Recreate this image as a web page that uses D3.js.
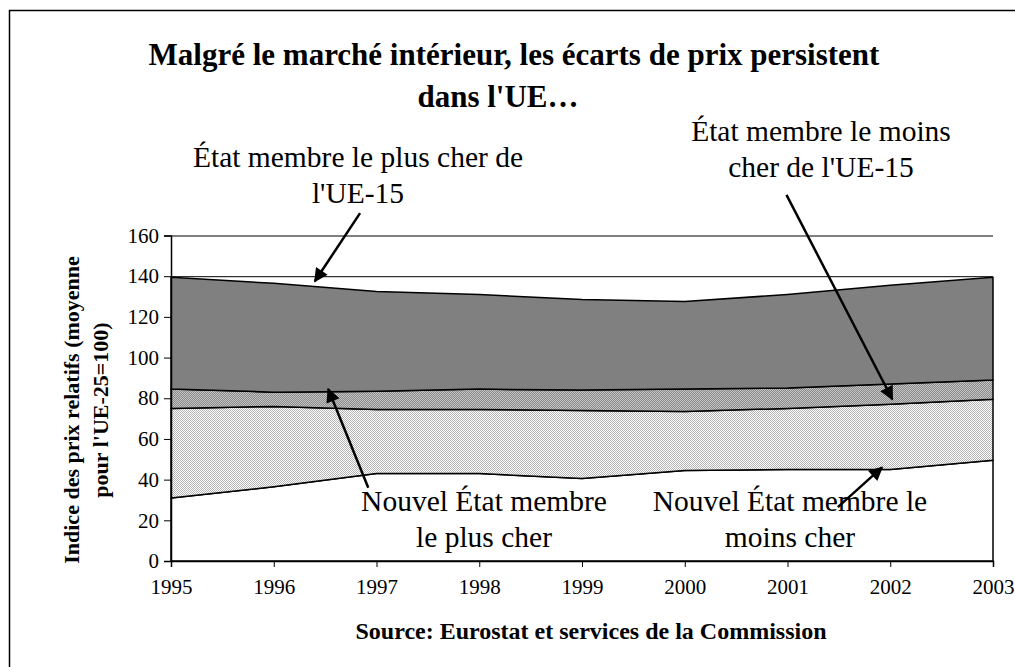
<!DOCTYPE html>
<html>
<head>
<meta charset="utf-8">
<script src="https://cdn.jsdelivr.net/npm/d3@7"></script>
<style>
  html, body { margin: 0; padding: 0; background: #fff; }
  svg { display: block; }
  svg text { font-family: "Liberation Serif", "Times New Roman", serif; }
</style>
</head>
<body>
<svg id="chart"></svg>
<script>
// Data (index of relative prices, EU-25 = 100)
const years = ["1995", "1996", "1997", "1998", "1999", "2000", "2001", "2002", "2003"];
const maxEU15 = [139.5, 136.5, 132.5, 131, 128.5, 127.5, 131, 135.5, 139.5];
const minEU15 = [84.5, 83, 83.5, 84.5, 84, 84.5, 85, 87, 89];
const maxNew = [75, 76, 74.5, 74.5, 74, 73.5, 75, 77, 79.5];
const minNew = [31, 36.5, 43, 43, 40.5, 44.5, 45, 45, 49.5];
const yTicks = [0, 20, 40, 60, 80, 100, 120, 140, 160];

const width = 1015;
const height = 667;
const plot = { left: 171, right: 993, top: 235.5, bottom: 561 };
const serif = "Liberation Serif, Times New Roman, serif";

const svg = d3.select("#chart").attr("width", width).attr("height", height);

// outer frame (runs off the right and bottom edges)
svg.append("rect")
  .attr("x", 9.5).attr("y", 10.5)
  .attr("width", 1100).attr("height", 1000)
  .attr("fill", "none").attr("stroke", "#000").attr("stroke-width", 1.5);

// fill patterns
const defs = svg.append("defs");
function checker(id, a, b) {
  const p = defs.append("pattern")
    .attr("id", id).attr("width", 2).attr("height", 2)
    .attr("patternUnits", "userSpaceOnUse");
  p.append("rect").attr("width", 2).attr("height", 2).attr("fill", a);
  p.append("rect").attr("width", 1).attr("height", 1).attr("fill", b);
  p.append("rect").attr("x", 1).attr("y", 1).attr("width", 1).attr("height", 1).attr("fill", b);
}
checker("light-check", "#ffffff", "#b4b4b4");
checker("dark-check", "#8a8a8a", "#c4c4c4");

defs.append("marker")
  .attr("id", "arrow")
  .attr("viewBox", "0 0 10 10")
  .attr("refX", 9).attr("refY", 5)
  .attr("markerUnits", "userSpaceOnUse")
  .attr("markerWidth", 17).attr("markerHeight", 14)
  .attr("orient", "auto")
  .append("path")
  .attr("d", "M0,0 L10,5 L0,10 Z")
  .attr("fill", "#000");

// scales
const x = d3.scaleLinear().domain([1995, 2003]).range([plot.left, plot.right]);
const xCat = d3.scalePoint().domain(years).range([plot.left, plot.right]);
const y = d3.scaleLinear().domain([0, 160]).range([plot.bottom, plot.top]);

// gridlines
svg.append("g")
  .selectAll("line")
  .data(yTicks.filter((d) => d > 0))
  .enter()
  .append("line")
  .attr("x1", plot.left).attr("x2", plot.right)
  .attr("y1", (d) => y(d) + 0.5).attr("y2", (d) => y(d) + 0.5)
  .attr("stroke", "#000").attr("stroke-width", 1);

// bands between consecutive series
const bands = [
  { lo: years.map(() => 0), hi: minNew, fill: "#ffffff" },
  { lo: minNew, hi: maxNew, fill: "url(#light-check)" },
  { lo: maxNew, hi: minEU15, fill: "url(#dark-check)" },
  { lo: minEU15, hi: maxEU15, fill: "#808080" }
];

const area = d3.area()
  .x((d) => xCat(d.year))
  .y0((d) => y(d.lo))
  .y1((d) => y(d.hi));

svg.append("g")
  .selectAll("path")
  .data(bands)
  .enter()
  .append("path")
  .attr("d", (b) => area(years.map((yr, i) => ({ year: yr, lo: b.lo[i], hi: b.hi[i] }))))
  .attr("fill", (b) => b.fill)
  .attr("stroke", "#000")
  .attr("stroke-width", 1.5)
  .attr("stroke-linejoin", "round");

// axes
const yAxis = svg.append("g")
  .attr("transform", `translate(${plot.left},0)`)
  .call(d3.axisLeft(y).tickValues(yTicks).tickSize(7).tickPadding(5));
yAxis.select(".domain").attr("stroke-width", 1.5);
yAxis.selectAll("text")
  .attr("font-family", serif)
  .attr("font-size", 21).attr("fill", "#000");

const xAxis = svg.append("g")
  .attr("transform", `translate(0,${plot.bottom})`)
  .call(d3.axisBottom(xCat).tickSize(6).tickPadding(12));
xAxis.select(".domain").attr("stroke-width", 1.5);
xAxis.selectAll("text")
  .attr("font-family", serif)
  .attr("font-size", 21).attr("fill", "#000");

// title
const title = svg.append("text")
  .attr("text-anchor", "middle")
  .attr("font-family", serif)
  .attr("font-weight", "bold")
  .attr("font-size", 31);
title.append("tspan").attr("x", 514).attr("y", 65)
  .text("Malgré le marché intérieur, les écarts de prix persistent");
title.append("tspan").attr("x", 498).attr("y", 107).text("dans l'UE…");

// y axis label
svg.append("text")
  .attr("transform", "translate(79,410) rotate(-90)")
  .attr("text-anchor", "middle")
  .attr("font-family", serif)
  .attr("font-weight", "bold")
  .attr("font-size", 22)
  .selectAll("tspan")
  .data(["Indice des prix relatifs (moyenne", "pour l'UE-25=100)"])
  .enter()
  .append("tspan")
  .attr("x", 0)
  .attr("dy", (d, i) => (i === 0 ? 0 : 29))
  .text((d) => d);

// source
svg.append("text")
  .attr("x", 591).attr("y", 639)
  .attr("text-anchor", "middle")
  .attr("font-family", serif)
  .attr("font-weight", "bold")
  .attr("font-size", 24)
  .text("Source: Eurostat et services de la Commission");

// annotations
const notes = [
  { cx: 358, y: 167, lines: ["État membre le plus cher de", "l'UE-15"] },
  { cx: 821, y: 141, lines: ["État membre le moins", "cher de l'UE-15"] },
  { cx: 484, y: 511, lines: ["Nouvel État membre", "le plus cher"] },
  { cx: 790, y: 511, lines: ["Nouvel État membre le", "moins cher"] }
];
notes.forEach((n) => {
  svg.append("text")
    .attr("text-anchor", "middle")
    .attr("font-family", serif)
    .attr("font-size", 29.5)
    .selectAll("tspan")
    .data(n.lines)
    .enter()
    .append("tspan")
    .attr("x", n.cx)
    .attr("y", (d, i) => n.y + i * 36)
    .text((d) => d);
});

// arrows, in data coordinates
const arrows = [
  { from: [1996.84, 171], to: [1996.4, 137.5] },
  { from: [2000.99, 180], to: [2002.02, 79.5] },
  { from: [1996.92, 36], to: [1996.53, 84.5] },
  { from: [2001.49, 26.5], to: [2001.92, 46] }
];
svg.append("g")
  .selectAll("line")
  .data(arrows)
  .enter()
  .append("line")
  .attr("x1", (d) => x(d.from[0])).attr("y1", (d) => y(d.from[1]))
  .attr("x2", (d) => x(d.to[0])).attr("y2", (d) => y(d.to[1]))
  .attr("stroke", "#000").attr("stroke-width", 2.5)
  .attr("marker-end", "url(#arrow)");
</script>
</body>
</html>
